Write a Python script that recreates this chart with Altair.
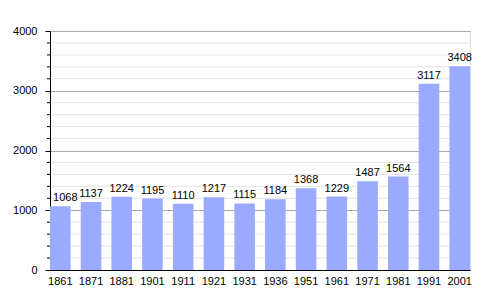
import altair as alt
import pandas as pd

years = ["1861", "1871", "1881", "1901", "1911", "1921", "1931", "1936",
         "1951", "1961", "1971", "1981", "1991", "2001"]
population = [1068, 1137, 1224, 1195, 1110, 1217, 1115, 1184,
              1368, 1229, 1487, 1564, 3117, 3408]
major_ticks = [0, 1000, 2000, 3000, 4000]
minor_ticks = [v for v in range(200, 4000, 200) if v % 1000 != 0]

df = pd.DataFrame({"year": years, "pop": population})
minor_df = pd.DataFrame({"pop": minor_ticks})

FONT = "Liberation Sans"
yscale = alt.Scale(domain=[0, 4000], nice=False)
y_axis = alt.Axis(values=major_ticks, format="d", labelOverlap=False,
                  labelFont=FONT, labelFontSize=11, labelColor="#000",
                  labelPadding=8, tickSize=5,
                  domainColor="#000", tickColor="#000",
                  gridColor="#aaaaaa", grid=True)

x = alt.X("year:N", sort=years, title=None,
          scale=alt.Scale(paddingInner=0.33, paddingOuter=0),
          axis=alt.Axis(labelAngle=0, ticks=False, domain=True, domainColor="#000",
                        labelFont=FONT, labelFontSize=11, labelColor="#000",
                        labelPadding=5, grid=False))
y = alt.Y("pop:Q", title=None, scale=yscale, axis=y_axis)

bars = alt.Chart(df).mark_bar(color="#99aaff").encode(x=x, y=y)
minor_grid = alt.Chart(minor_df).mark_rule(color="#e3e3e3", strokeWidth=1).encode(
    y=y, x=alt.value(2), x2=alt.value(420))
minor_tick = alt.Chart(minor_df).mark_rule(color="#000", strokeWidth=1).encode(
    y=y, x=alt.value(-3), x2=alt.value(0))
labels = alt.Chart(df).mark_text(baseline="bottom", dy=-3, font=FONT, fontSize=11,
                                 color="#000",
                                 dx=alt.expr("datum.year === '1861' ? 5 : 0")).encode(
    x=alt.X("year:N", sort=years),
    y=y, text="pop:Q")

chart = alt.layer(minor_grid, bars, labels, minor_tick).properties(
    width=420, height=239,
    padding={"left": 50, "top": 31, "right": 30, "bottom": 30},
    autosize=alt.AutoSizeParams(type="none"),
).configure_view(stroke=None).configure(background="white")

chart.save("out.html", embed_options={"renderer": "svg", "actions": False})
